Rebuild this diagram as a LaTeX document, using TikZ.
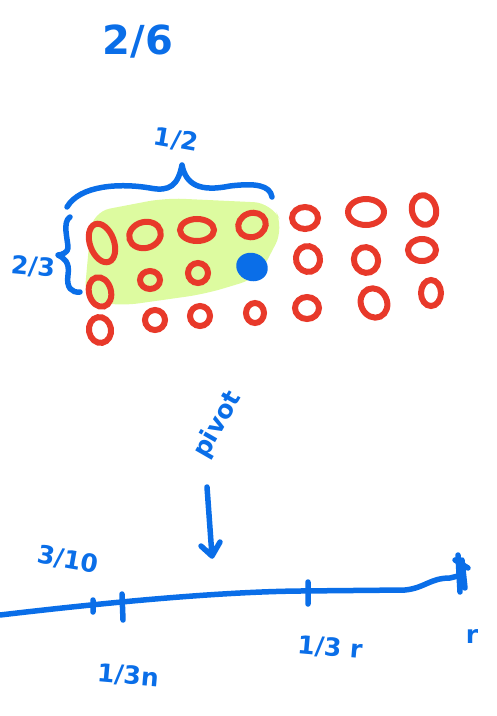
\documentclass[tikz,border=0pt]{standalone}
\usepackage{fontspec}
\setmainfont{DejaVu Sans}
\definecolor{ink}{HTML}{0A6EE8}
\definecolor{redink}{HTML}{E8392A}
\definecolor{hl}{HTML}{DDFBA0}
\begin{document}
\begin{tikzpicture}[x=1pt,y=-1pt,
  pen/.style={draw=ink,line width=5.5pt,line cap=round,line join=round},
  hand/.style={text=ink,font=\bfseries\fontsize{25}{27}\selectfont,inner sep=0pt}]
\useasboundingbox (0,0) rectangle (497,716);
% highlight
\fill[hl,rounded corners=18pt] (92,212) -- (165,198) -- (272,203) -- (284,228) -- (258,278) -- (205,294) -- (120,306) -- (84,300) -- cycle;
% top text
\node[hand,font=\bfseries\fontsize{40}{42}\selectfont] (top) at (138,42) {2/6};
% top brace
\draw[pen] (67,207) .. controls (80,185) and (120,183) .. (150,188) .. controls (170,192) and (178,185) .. (182,165)
  (182,165) .. controls (186,185) and (200,192) .. (230,186) .. controls (255,183) and (270,185) .. (272,197);
\node[hand,rotate=-10] (half) at (176,140) {1/2};
% left brace
\draw[pen] (70,217) .. controls (62,222) and (68,240) .. (68,248) .. controls (68,252) and (62,255) .. (58,255)
  (58,255) .. controls (64,258) and (70,262) .. (68,275) .. controls (66,288) and (72,293) .. (80,292);
\node[hand,rotate=-5] (twothirds) at (33,267) {2/3};
% circles
\foreach \x/\y/\w/\h/\r in {
  102/243/24/40/20, 145/235/32/26/15, 197/230/34/22/0, 252/225/28/24/20, 305/218/26/22/0, 366/212/36/26/0, 424/210/24/30/15,
  100/292/22/30/15, 150/280/20/18/0, 198/273/20/20/0, 308/259/24/26/15, 366/260/24/26/20, 422/250/28/22/0,
  100/330/22/26/10, 155/320/20/20/0, 200/316/20/20/0, 255/313/18/20/0, 307/308/24/22/0, 374/303/26/30/25, 431/293/20/26/0}
  \draw[draw=redink,line width=6pt,rotate around={\r:(\x,\y)}] (\x,\y) ellipse ({\w/2} and {\h/2});
\fill[ink,rotate around={-20:(252,267)}] (252,267) ellipse (16 and 14);
% pivot label and arrow
\node[hand,rotate=60] (pivot) at (218,425) {pivot};
\coordinate (a0) at (207,487);
\coordinate (a1) at (212,556);
\draw[pen] (a0) -- (a1) (a1) -- (220,542) (a1) -- (201,546);
% number line
\coordinate (L) at (0,615);
\coordinate (R) at (462,575);
\draw[pen] (L) .. controls (60,608) and (200,592) .. (300,591) -- (405,590) .. controls (425,588) and (430,578) .. (450,578) -- (R);
\draw[pen] (93,600) -- (93,612) (122,594) -- (123,620) (308,582) -- (308,604);
\draw[pen] (458,555) -- (460,592) (462,560) -- (465,588) (455,560) -- (468,568);
\node[hand,rotate=-10] (t1) at (68,560) {3/10};
\node[hand,rotate=-5] (t2) at (128,676) {1/3n};
\node[hand,rotate=-5] (t3) at (330,648) {1/3 r};
\node[hand] (t4) at (472,636) {r};
\end{tikzpicture}
\end{document}
